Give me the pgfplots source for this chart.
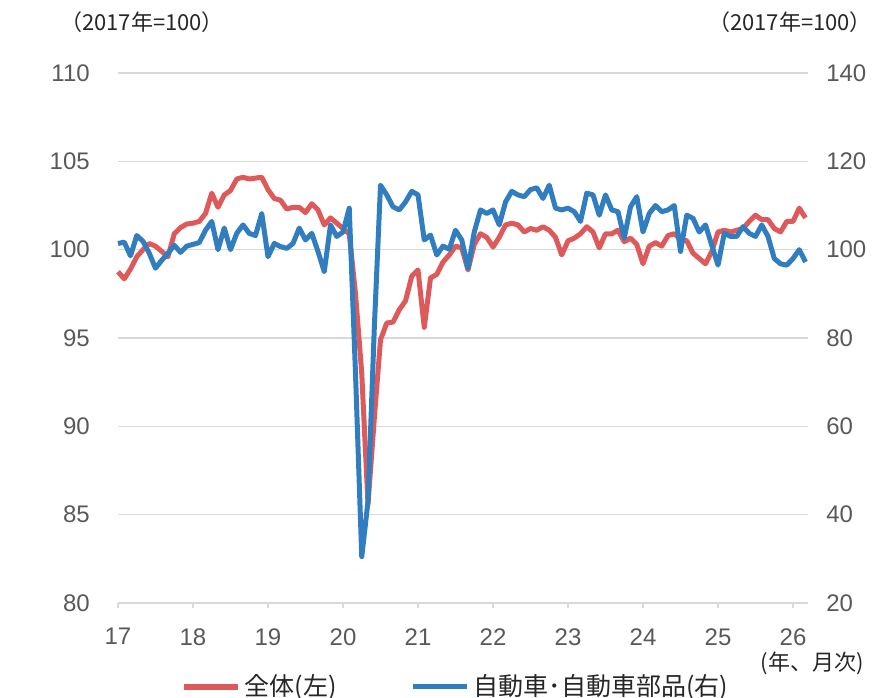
\documentclass[border=0pt]{standalone}
\usepackage{pgfplots}
\usepackage{pgfplotstable}
\pgfplotsset{compat=1.18}
\usepackage{fontspec}
\setmainfont{Liberation Sans}
\newfontfamily\jp{Noto Sans CJK JP}
\definecolor{cred}{RGB}{222,90,90}
\definecolor{cblue}{RGB}{48,125,192}
\definecolor{cgrid}{RGB}{217,217,217}
\definecolor{ctick}{RGB}{89,89,89}
\definecolor{ctext}{RGB}{38,38,38}

\pgfplotstableread{
m red blue
0 98.75 101.4
1 98.35 101.7
2 98.9 98.6
3 99.6 103.2
4 100.0 101.9
5 100.35 99.2
6 100.2 95.8
7 99.9 97.6
8 99.6 99.2
9 100.9 101.0
10 101.25 99.4
11 101.45 100.8
12 101.5 101.2
13 101.6 101.6
14 102.05 104.4
15 103.2 106.4
16 102.4 100.0
17 103.1 104.9
18 103.35 100.0
19 104.0 103.7
20 104.1 105.6
21 104.0 103.7
22 104.05 103.2
23 104.1 108.2
24 103.4 98.4
25 102.9 101.4
26 102.8 100.7
27 102.3 100.3
28 102.4 101.4
29 102.4 104.9
30 102.1 102.2
31 102.6 103.7
32 102.25 99.6
33 101.4 95.0
34 101.8 105.6
35 101.5 103.0
36 101.2 104.0
37 100.9 109.4
38 97.5 72.0
39 93.0 30.5
40 85.6 43.0
41 90.4 82.0
42 94.9 114.6
43 95.85 112.4
44 95.9 109.7
45 96.6 109.0
46 97.1 110.8
47 98.5 113.2
48 98.85 112.4
49 95.6 102.2
50 98.4 103.3
51 98.6 98.8
52 99.3 100.8
53 99.7 100.1
54 100.2 104.4
55 100.1 102.2
56 98.85 95.8
57 100.3 104.0
58 100.9 109.0
59 100.7 108.2
60 100.15 109.0
61 100.7 105.6
62 101.4 110.8
63 101.5 113.2
64 101.4 112.4
65 101.0 112.0
66 101.2 113.6
67 101.1 114.0
68 101.3 111.6
69 101.1 114.6
70 100.7 109.4
71 99.7 109.0
72 100.5 109.4
73 100.65 108.6
74 100.9 106.4
75 101.3 112.8
76 101.0 112.4
77 100.1 107.8
78 100.9 112.4
79 100.9 109.0
80 101.1 108.6
81 100.45 102.6
82 100.65 109.7
83 100.3 112.0
84 99.2 104.0
85 100.2 108.2
86 100.4 110.0
87 100.2 108.6
88 100.8 109.0
89 100.9 110.0
90 100.6 99.6
91 100.5 107.8
92 99.8 107.1
93 99.5 104.0
94 99.2 105.6
95 99.9 101.0
96 101.0 96.5
97 101.1 103.7
98 101.0 103.0
99 101.1 103.0
100 101.2 105.2
101 101.6 103.7
102 101.95 103.0
103 101.7 105.6
104 101.7 103.0
105 101.2 98.0
106 101.0 96.8
107 101.6 96.5
108 101.6 98.0
109 102.35 100.0
110 101.8 97.2
}\data

\pgfplotsset{
  common/.style={
    scale only axis, width=345pt, height=265pt,
    xmin=17, xmax=26.2,
    axis line style={draw=none},
    ytick style={draw=none},
    tick label style={font=\fontsize{12}{14}\selectfont, text=ctick},
    /pgf/number format/assume math mode=true,
    clip=false,
  }
}

\begin{document}
\begin{tikzpicture}
\begin{axis}[common,
  ymin=80, ymax=110, ytick={80,85,...,110},
  ymajorgrids, grid style={cgrid, line width=0.8pt},
  xtick={17,...,26}, xtick pos=bottom, tick align=outside,
  xtick style={cgrid, line width=0.8pt},
  major tick length=2.6pt,
  yticklabel style={xshift=-8.0pt},
  xticklabel style={yshift=-6.5pt},
]
\addplot[cred, line width=2.5pt, line join=round] table[x expr=17+\thisrow{m}/12, y=red] {\data};
\end{axis}
\begin{axis}[common,
  ymin=20, ymax=140, ytick={20,40,...,140},
  yticklabel pos=right,
  xtick=\empty,
  yticklabel style={xshift=5.6pt},
  legend style={at={(axis description cs:0.0913,-0.158)}, anchor=west,
    draw=none, fill=none, inner sep=0pt, legend columns=2,
    font=\jp\fontsize{12.5}{14}\selectfont, text=ctext,
    /tikz/every even column/.append style={column sep=35pt}},
  legend image code/.code={\draw[#1] (0pt,0pt) -- (27pt,0pt);},
]
\addlegendimage{cred, line width=2.8pt}
\addlegendentry{全体(左)}
\addplot[cblue, line width=2.5pt, line join=round] table[x expr=17+\thisrow{m}/12, y=blue] {\data};
\addlegendentry{自動車･自動車部品(右)}
\node[font=\jp\fontsize{11}{13}\selectfont, text=ctext] at (axis description cs:0.0348,1.0962) {（2017年=100）};
\node[font=\jp\fontsize{11}{13}\selectfont, text=ctext] at (axis description cs:0.974,1.0962) {（2017年=100）};
\node[font=\jp\fontsize{11}{13}\selectfont, text=ctext] at (axis description cs:1.006,-0.113) {(年、月次)};
\end{axis}
\pgfresetboundingbox
\path[use as bounding box] ([shift={(-59pt,-47pt)}]current axis.south west) rectangle ([shift={(34pt,36.5pt)}]current axis.north east);
\end{tikzpicture}
\end{document}
